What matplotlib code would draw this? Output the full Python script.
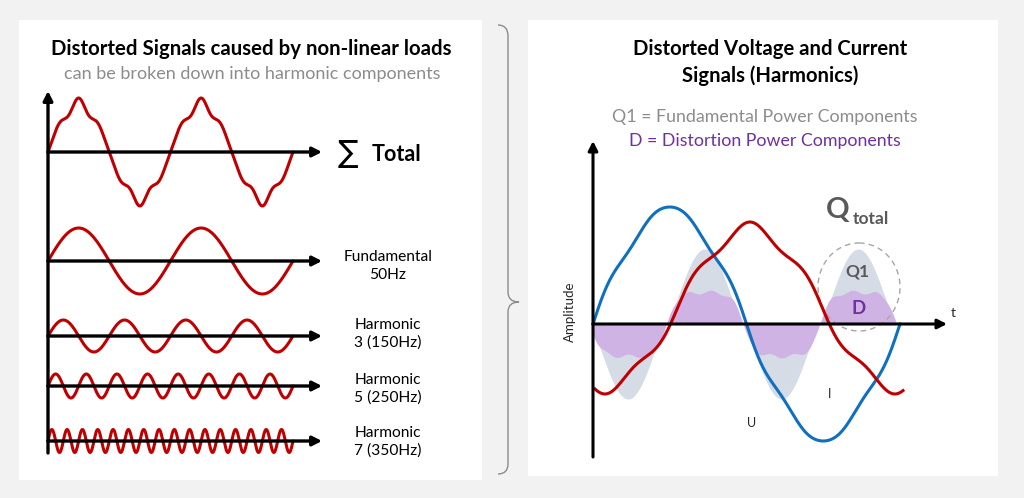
import numpy as np
import matplotlib.pyplot as plt
from matplotlib.patches import Rectangle, Ellipse, PathPatch
from matplotlib.path import Path

plt.rcParams['font.family'] = ['Lato', 'DejaVu Sans']

W, H = 1024, 498
RED = '#c00000'
BLUE = '#1070c0'
GRAY_FILL = '#d6dce5'
PURPLE_FILL = '#cfb3e5'
PURPLE = '#7030a0'

# left panel: rows of waves (label, number of cycles, amplitude on screen)
row_labels = ['Fundamental\n50Hz', 'Harmonic\n3 (150Hz)', 'Harmonic\n5 (250Hz)', 'Harmonic\n7 (350Hz)']
row_cycles = [2, 4, 8, 16]
row_amps = [33, 16, 12, 11.5]
# distorted total: harmonic orders and amplitudes
total_orders = [1, 5, 7]
total_amps = [48, 4, -2]
total_cycles = 2

# right panel: voltage U (harmonic orders / amplitudes, in degrees of U)
u_orders = [1, 5, 7]
u_amps = [115, 4, 2]
# current I: offset, amplitude, period (deg), peak position (deg), ripple (order, amp)
i_offset = 16
i_amp = 80
i_period = 340
i_peak = 184
i_ripple = (5, 6)
# shaded power components
q1_amp = 75
d_amp = 32


def px_rect(x0, y0, x1, y1):
    return [x0 / W, 1 - y1 / H, (x1 - x0) / W, (y1 - y0) / H]


fig = plt.figure(figsize=(W / 100, H / 100), dpi=100)
fig.patch.set_facecolor('#f2f2f2')

bg = fig.add_axes([0, 0, 1, 1])
bg.set_xlim(0, W)
bg.set_ylim(H, 0)
bg.axis('off')
bg.add_patch(Rectangle((19, 20), 463, 460, color='white', lw=0))
bg.add_patch(Rectangle((528, 20), 470, 456, color='white', lw=0))

# brace between the panels
verts = [(498, 25), (508, 25), (508, 36), (508, 292), (508, 302), (519, 302),
         (508, 302), (508, 312), (508, 464), (508, 474), (498, 474)]
codes = [Path.MOVETO, Path.CURVE3, Path.CURVE3, Path.LINETO, Path.CURVE3, Path.CURVE3,
         Path.CURVE3, Path.CURVE3, Path.LINETO, Path.CURVE3, Path.CURVE3]
bg.add_patch(PathPatch(Path(verts, codes), fc='none', ec='#8c8c8c', lw=1))

# titles
bg.text(251, 49, 'Distorted Signals caused by non-linear loads', ha='center', va='center',
        fontsize=14.7, fontweight='bold', color='black')
bg.text(252, 74, 'can be broken down into harmonic components', ha='center', va='center',
        fontsize=13, color='#8c8c8c')
bg.text(770, 49, 'Distorted Voltage and Current', ha='center', va='center',
        fontsize=14.6, fontweight='bold', color='black')
bg.text(770, 76, 'Signals (Harmonics)', ha='center', va='center',
        fontsize=14.6, fontweight='bold', color='black')
bg.text(765, 117, 'Q1 = Fundamental Power Components', ha='center', va='center',
        fontsize=12.8, color='#8c8c8c')
bg.text(765, 141, 'D = Distortion Power Components', ha='center', va='center',
        fontsize=12.8, color=PURPLE)

# ---- left panel ----
cyc_px = 122.5
axL = fig.add_axes(px_rect(40, 85, 330, 460))
axL.set_xlim((40 - 48) / cyc_px, (330 - 48) / cyc_px)
axL.set_ylim(460, 85)
axL.axis('off')

arrow = dict(arrowstyle='-|>,head_length=0.55,head_width=0.28', lw=2.4, color='black',
             shrinkA=0, shrinkB=0)
x_tip = (322 - 48) / cyc_px
axL.annotate('', xy=(0, 91), xytext=(0, 453), arrowprops=arrow)

baselines = [152, 261, 336, 386, 441]

t = np.linspace(0, total_cycles, 1200)
th = 2 * np.pi * t
tot = sum(a * np.sin(n * th) for n, a in zip(total_orders, total_amps))
axL.annotate('', xy=(x_tip, baselines[0]), xytext=(0, baselines[0]), arrowprops=arrow)
axL.plot(t, baselines[0] - tot, color=RED, lw=2.2, solid_capstyle='round')

for base, cyc, amp in zip(baselines[1:], row_cycles, row_amps):
    axL.annotate('', xy=(x_tip, base), xytext=(0, base), arrowprops=arrow)
    y = amp * np.sin(2 * np.pi * cyc * t / total_cycles)
    axL.plot(t, base - y, color=RED, lw=2.2, solid_capstyle='round')

bg.text(338, 153, '∑', ha='left', va='center', fontsize=22, family=['DejaVu Sans'])
bg.text(372, 154, 'Total', ha='left', va='center', fontsize=15.5, fontweight='bold')
label_y = [266, 334, 389, 442]
for ly, lab in zip(label_y, row_labels):
    bg.text(388, ly, lab, ha='center', va='center', fontsize=11.2, linespacing=1.35)

# ---- right panel ----
deg_px = 307 / 360
axR = fig.add_axes(px_rect(580, 135, 960, 462))
axR.set_xlim((580 - 593) / deg_px, (960 - 593) / deg_px)
axR.set_ylim(-(462 - 324), 324 - 135)
axR.axis('off')

th = np.linspace(0, 360, 1500)
r = np.radians(th)
s = np.sin(2 * np.radians(th - 86))
gray = q1_amp * np.sign(s) * np.abs(s) ** 1.3
purple = d_amp * np.tanh(2.2 * s) / np.tanh(2.2) * (1 + 0.06 * np.cos(np.radians(13 * th)))
mask = th <= 356
axR.fill_between(th[mask], 0, gray[mask], color=GRAY_FILL, lw=0)
axR.fill_between(th[mask], 0, purple[mask], color=PURPLE_FILL, lw=0)

arrowR = dict(arrowstyle='-|>,head_length=0.55,head_width=0.28', lw=2.2, color='black',
              shrinkA=0, shrinkB=0)
axR.annotate('', xy=((947 - 593) / deg_px, 0), xytext=(0, 0), arrowprops=arrowR)
axR.annotate('', xy=(0, 324 - 141), xytext=(0, 324 - 457), arrowprops=arrowR)

u = sum(a * np.sin(n * r) for n, a in zip(u_orders, u_amps))
axR.plot(th, u, color=BLUE, lw=2.2)

thi = np.linspace(2.3, 363.5, 1500)
phi = np.radians((thi - i_peak) * 360 / i_period + 90)
cur = i_offset + i_amp * np.sin(phi) + i_ripple[1] * np.sin(i_ripple[0] * phi)
axR.plot(thi, cur, color=RED, lw=2.2)

# dashed circle and labels (drawn on top of the right panel, placed in pixel units)
pix = bg.transData
axR.add_patch(Ellipse((859, 287), 82, 88, fc='none', ec='#a6a6a6', lw=1, ls=(0, (4, 3)),
                      transform=pix, clip_on=False))
axR.text(826, 210, 'Q', ha='left', va='center', fontsize=21, fontweight='bold', color='#595959', transform=pix)
axR.text(853, 219, 'total', ha='left', va='center', fontsize=12.5, fontweight='bold', color='#595959', transform=pix)
axR.text(857, 271, 'Q1', ha='center', va='center', fontsize=12.5, fontweight='bold', color='#595959', transform=pix)
axR.text(859, 308, 'D', ha='center', va='center', fontsize=13.5, fontweight='bold', color=PURPLE, transform=pix)
bg.text(953, 313, 't', ha='center', va='center', fontsize=10, color='#262626')
bg.text(752, 423, 'U', ha='center', va='center', fontsize=9, color='#262626')
bg.text(830, 394, 'I', ha='center', va='center', fontsize=9, color='#262626')
bg.text(570, 312, 'Amplitude', ha='center', va='center', fontsize=9.5, rotation=90, color='#262626')

fig.savefig('out.png', dpi=100, facecolor=fig.get_facecolor())
